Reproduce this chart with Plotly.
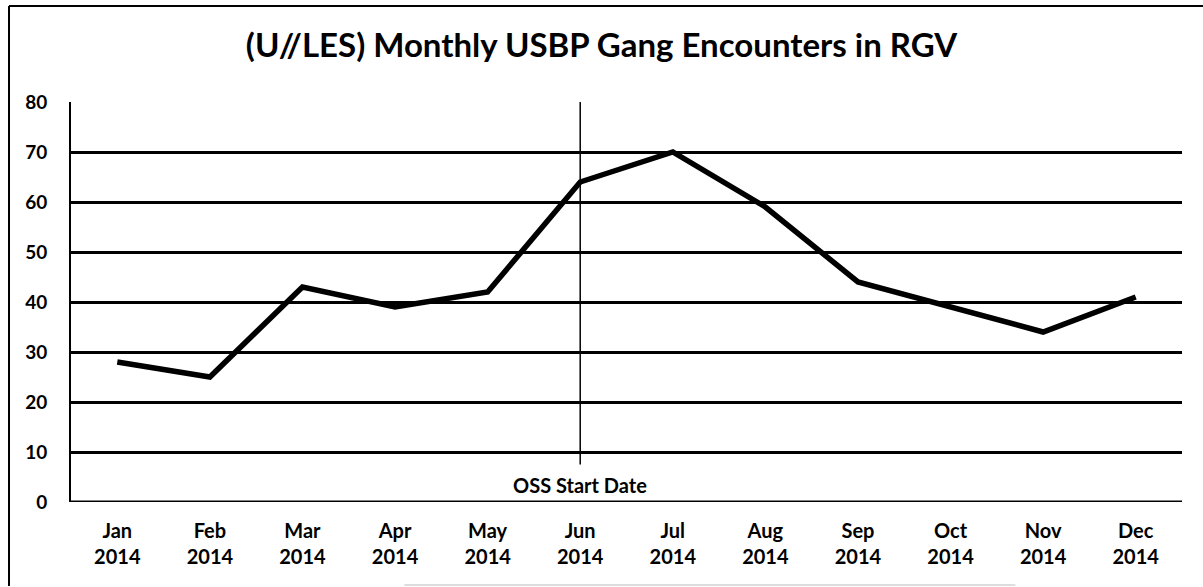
import plotly.graph_objects as go

months = ["Jan", "Feb", "Mar", "Apr", "May", "Jun", "Jul", "Aug", "Sep", "Oct", "Nov", "Dec"]
year = "2014"
encounters = [28, 25, 43, 39, 42, 64, 70, 59, 44, 39, 34, 41]
y_ticks = [0, 10, 20, 30, 40, 50, 60, 70, 80]
title = "(U//LES) Monthly USBP Gang Encounters in RGV"
marker_month = "Jun"
marker_label = "OSS Start Date"

idx = list(range(len(months)))
tick_text = [f"{m}<br>{year}" for m in months]
mi = months.index(marker_month)

FONT = "Lato"
fig = go.Figure()
fig.add_trace(go.Scatter(
    x=idx, y=encounters, mode="lines",
    line=dict(color="black", width=5.5),
    hoverinfo="x+y", showlegend=False,
))

fig.update_layout(
    width=1203, height=587,
    margin=dict(l=71, r=21, t=102, b=85),
    paper_bgcolor="white", plot_bgcolor="white",
    font=dict(family=FONT, color="black"),
    title=dict(text=f"<b>{title}</b>", x=0.5, xanchor="center",
               y=1 - 45 / 587, yanchor="middle", yref="container",
               font=dict(family=FONT, size=33, color="black")),
    xaxis=dict(range=[-0.5, len(months) - 0.5], tickvals=idx,
               ticktext=[f"<b>{t}</b>" for t in tick_text],
               showgrid=False, zeroline=False, showline=False, ticks="",
               tickfont=dict(family=FONT, size=20, color="black"),
               ticklabelstandoff=15, fixedrange=True),
    yaxis=dict(range=[0, 80], tickvals=y_ticks,
               ticktext=[f"<b>{v}</b>" for v in y_ticks],
               showgrid=True, gridcolor="black", gridwidth=2.5,
               zeroline=False, showline=True, linecolor="black", linewidth=2,
               ticks="", tickfont=dict(family=FONT, size=19, color="black"),
               ticklabelstandoff=18, fixedrange=True),
)

# x axis baseline at 0
fig.add_shape(type="line", xref="paper", yref="y", x0=0, x1=1, y0=0, y1=0,
              line=dict(color="black", width=3), layer="above")
# marker line at start month
fig.add_shape(type="line", xref="x", yref="y", x0=mi, x1=mi, y0=7.5, y1=80,
              line=dict(color="black", width=1.5), layer="above")
fig.add_annotation(x=mi, y=3.4, xref="x", yref="y", text=f"<b>{marker_label}</b>",
                   showarrow=False, font=dict(family=FONT, size=20, color="black"))

# outer frame
fig.add_shape(type="line", xref="paper", yref="paper", x0=-0.0558, x1=1.03,
              y0=1.24, y1=1.24, line=dict(color="black", width=2))
fig.add_shape(type="line", xref="paper", yref="paper", x0=-0.0558, x1=-0.0558,
              y0=1.24, y1=-0.21, line=dict(color="black", width=2))
fig.add_shape(type="line", xref="paper", yref="paper", x0=0.3, x1=0.85,
              y0=-0.2075, y1=-0.2075, line=dict(color="#bbbbbb", width=1))

fig.write_html("out.html", config={"displayModeBar": False},
               post_script="document.body.style.margin='0';")
